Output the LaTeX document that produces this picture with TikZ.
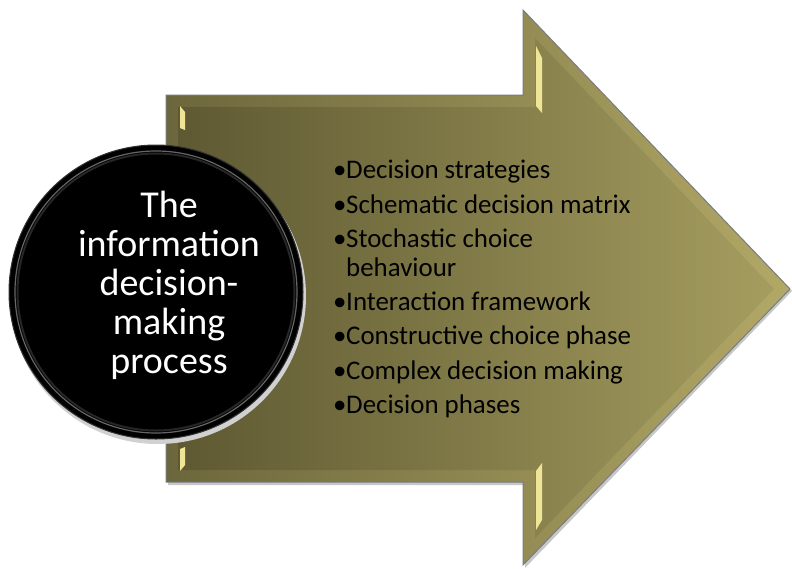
\documentclass[tikz,border=0pt]{standalone}
\usepackage{fontspec}
\setmainfont{Carlito}
\usetikzlibrary{shadings}
\definecolor{oliveL}{RGB}{94,89,50}
\definecolor{oliveR}{RGB}{165,157,95}
\definecolor{bevelL}{RGB}{108,102,60}
\definecolor{bevelR}{RGB}{178,168,102}
\definecolor{hilite}{RGB}{240,228,150}
\definecolor{rim}{RGB}{120,124,128}
\tikzset{
  listitem/.style={anchor=base west, inner sep=0pt, font=\fontsize{26.9}{29}\selectfont, text=black},
  hl/.style={fill=hilite, draw=none},
}
\begin{document}
\begin{tikzpicture}[x=1pt,y=-1pt]
\useasboundingbox (0,0) rectangle (792,568);
% shadow
\fill[black!22] (168,97) -- (525,97) -- (525,13) -- (792,291) -- (525,568) -- (525,485) -- (168,485) -- cycle;
% outer arrow (bevel band)
\shade[left color=bevelL, right color=bevelR, draw=rim, line width=1pt]
  (166,95) coordinate (a1) -- (523,95) -- (523,10) -- (790,289) coordinate (tip) -- (523,565) -- (523,482) -- (166,482) -- cycle;
% inner face
\shade[left color=oliveL, right color=oliveR]
  (178,107) -- (535,107) -- (535,38) -- (774,289) -- (535,538) -- (535,470) -- (178,470) -- cycle;
% highlights
\fill[hl] (180,106) -- (185,112) -- (185,130) -- (180,128) -- cycle;
\fill[hl] (180,471) -- (185,465) -- (185,447) -- (180,449) -- cycle;
\fill[hl] (536,46) -- (542,58) -- (542,113) -- (536,106) -- cycle;
\fill[hl] (536,471) -- (542,463) -- (542,520) -- (536,530) -- cycle;
% circle
\fill[black!18] (158,296) circle (148);
\node[circle, minimum size=294pt, inner sep=0pt, fill=black, draw=black!80, line width=1pt] (c) at (156,292) {};
\draw[black!60, line width=1.2pt] (156,292) circle (141);
\draw[black!85, line width=2pt] (156,292) circle (138.5);
\node[align=center, text=white, inner sep=0pt, font=\fontsize{38}{39}\selectfont] (ctext) at (169,285)
  {The\\information\\decision-\\making\\process};
% list
\node[listitem] (i1) at (333,178) {\makebox[13pt][l]{•}Decision strategies};
\node[listitem] (i2) at (333,213) {\makebox[13pt][l]{•}Schematic decision matrix};
\node[listitem] (i3) at (333,247) {\makebox[13pt][l]{•}Stochastic choice};
\node[listitem] (i3b) at (346,276) {behaviour};
\node[listitem] (i4) at (333,310) {\makebox[13pt][l]{•}Interaction framework};
\node[listitem] (i5) at (333,344) {\makebox[13pt][l]{•}Constructive choice phase};
\node[listitem] (i6) at (333,379) {\makebox[13pt][l]{•}Complex decision making};
\node[listitem] (i7) at (333,413) {\makebox[13pt][l]{•}Decision phases};
\end{tikzpicture}
\end{document}
